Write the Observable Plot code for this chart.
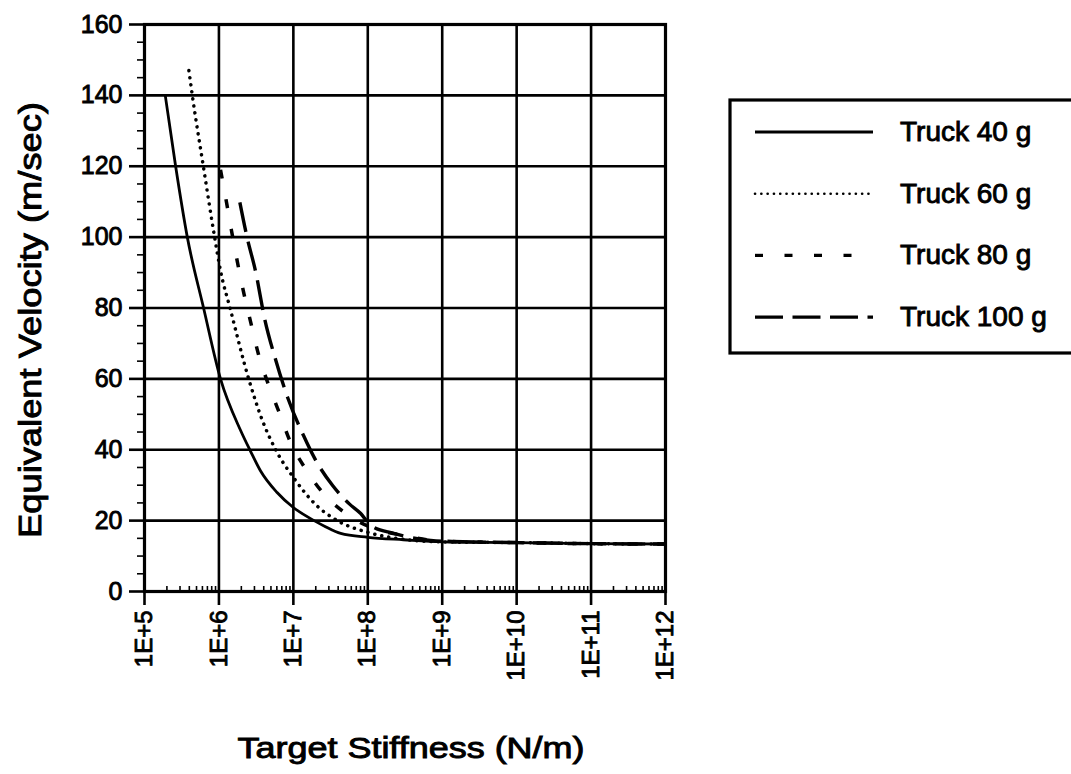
<!DOCTYPE html>
<html><head><meta charset="utf-8">
<script src="https://cdn.jsdelivr.net/npm/d3@7"></script>
<script src="https://cdn.jsdelivr.net/npm/@observablehq/plot@0.6"></script>
<style>
html,body{margin:0;padding:0;background:#fff;}
#wrap{position:relative;width:1071px;height:774px;overflow:hidden;background:#fff;}
#wrap svg{position:absolute;left:0;top:0;font-family:"Liberation Sans",Arial,Helvetica,sans-serif;}
#wrap svg text{fill:#000;stroke:#000;stroke-width:0.9px;}
</style></head><body><div id="wrap"></div>
<script>
// ---- data ----
const seriesNames = ["Truck 40 g", "Truck 60 g", "Truck 80 g", "Truck 100 g"];
const stiff40 = [1.9e5, 2.62e5, 3.76e5, 6.22e5, 1.05e6, 1.95e6, 2.67e6, 3.63e6, 6e6, 1e7, 1.9e7, 2.7e7, 4.32e7, 1e8, 3e8, 1e9, 1e10, 1e11, 1e12];
const vel40   = [140, 120, 100, 80, 60, 45.5, 39.5, 34, 28, 23.7, 20, 18.3, 16.4, 15.3, 14.6, 14.0, 13.8, 13.5, 13.4];
const stiff60 = [3.95e5, 4.39e5, 6.17e5, 8.75e5, 1.05e6, 1.41e6, 2.51e6, 3.8e6, 5.78e6, 1e7, 2e7, 3.9e7, 1e8, 2.25e8, 1e9, 1e10, 1e11, 1e12];
const vel60   = [147, 140, 120, 100, 90.5, 80, 60, 48.5, 40, 32.2, 24.5, 20, 16.7, 15.1, 14.0, 13.8, 13.5, 13.4];
const stiff80 = [1.05e6, 1.26e6, 1.47e6, 1.77e6, 2.17e6, 2.67e6, 3.39e6, 4.7e6, 6.6e6, 9.2e6, 1.46e7, 2.57e7, 4.78e7, 1.1e8, 3.07e8, 1e9, 1e10, 1e11, 1e12];
const vel80   = [119, 110, 102, 93, 84, 76, 67, 58, 50, 42, 34.6, 27.5, 22.4, 18.1, 15.8, 14.2, 13.8, 13.5, 13.4];
const stiff100 = [1.91e6, 2.39e6, 3.11e6, 4.11e6, 5.78e6, 8.5e6, 1.37e7, 2e7, 3.37e7, 5.6e7, 8.04e7, 1.1e8, 2.23e8, 7e8, 1e9, 1e10, 1e11, 1e12];
const vel100   = [109.8, 99.9, 90.3, 77, 65.4, 54.4, 44, 37, 29.9, 24.8, 22, 18.6, 16.4, 14.4, 14.2, 13.8, 13.5, 13.4];
const xTickValues = [1e5, 1e6, 1e7, 1e8, 1e9, 1e10, 1e11, 1e12];
const xTickLabels = ["1E+5", "1E+6", "1E+7", "1E+8", "1E+9", "1E+10", "1E+11", "1E+12"];
const yTickValues = [0, 20, 40, 60, 80, 100, 120, 140, 160];
const xTitle = "Target Stiffness (N/m)";
const yTitle = "Equivalent Velocity (m/sec)";

// ---- build ----
const stiffs = [stiff40, stiff60, stiff80, stiff100];
const vels = [vel40, vel60, vel80, vel100];
const rows = seriesNames.flatMap((name, i) => stiffs[i].map((k, j) => ({series: name, k, v: vels[i][j]})));
const lineStyle = [
  {dash: null, width: 2.8, cap: "butt"},
  {dash: "0.1,7", width: 3.5, cap: "round"},
  {dash: "9,21", width: 3.5, cap: "butt"},
  {dash: "30,10", width: 3.4, cap: "butt"}
];
const xMinor = [];
for (let e = 5; e < 12; e++) for (let m = 2; m <= 9; m++) xMinor.push(m * Math.pow(10, e));
const yMinor = d3.range(0, 161, 5).filter(v => v % 20 !== 0);
const labelOf = new Map(xTickValues.map((v, i) => [v, xTickLabels[i]]));

const lines = seriesNames.map((name, i) => Plot.line(rows.filter(r => r.series === name), {
  x: "k", y: "v", curve: "monotone-x", stroke: "black",
  strokeWidth: lineStyle[i].width,
  strokeDasharray: lineStyle[i].dash || undefined,
  strokeLinecap: lineStyle[i].cap
}));

const chart = Plot.plot({
  width: 1071, height: 774,
  marginTop: 24, marginLeft: 144, marginRight: 406, marginBottom: 183,
  style: {background: "transparent", color: "black", fontSize: "24px", overflow: "visible"},
  x: {type: "log", domain: [1e5, 1e12]},
  y: {domain: [0, 160]},
  marks: [
    Plot.gridX(xTickValues, {stroke: "black", strokeOpacity: 1, strokeWidth: 2.6}),
    Plot.gridY(yTickValues, {stroke: "black", strokeOpacity: 1, strokeWidth: 2.6}),
    Plot.axisX(xMinor, {tickSize: -5, tickFormat: () => "", label: null, strokeWidth: 1.6}),
    Plot.axisX(xTickValues, {tickSize: 14, tickPadding: 5, tickRotate: -90, tickFormat: d => labelOf.get(d), label: null, strokeWidth: 2.6, fontSize: 24}),
    Plot.axisY(yMinor, {tickSize: 7, tickFormat: () => "", label: null, strokeWidth: 1.6}),
    Plot.axisY(yTickValues, {tickSize: 15, tickPadding: 7, label: null, strokeWidth: 2.6, fontSize: 25}),
    ...lines,
    Plot.frame({stroke: "black", strokeWidth: 3.2}),
    Plot.text([xTitle], {frameAnchor: "bottom", dy: 166, dx: 6, lineAnchor: "bottom", textAnchor: "middle", fontSize: 29}),
    Plot.text([yTitle], {frameAnchor: "left", dx: -104, dy: 12, rotate: -90, lineAnchor: "bottom", textAnchor: "middle", fontSize: 32})
  ]
});
const wrap = document.getElementById("wrap");
wrap.appendChild(chart);

// stretch axis titles to the reference widths
d3.select(chart).selectAll("text").each(function() {
  const t = this.textContent;
  if (t === xTitle) d3.select(this).attr("textLength", 347).attr("lengthAdjust", "spacingAndGlyphs");
  if (t === yTitle) d3.select(this).attr("textLength", 436).attr("lengthAdjust", "spacingAndGlyphs");
});

// ---- legend ----
const leg = d3.select(wrap).append("svg").attr("width", 1071).attr("height", 774);
leg.append("rect").attr("x", 730).attr("y", 100).attr("width", 360).attr("height", 253)
  .attr("fill", "white").attr("stroke", "black").attr("stroke-width", 3.2);
const legDash = [null, "0.1,6.2", "8,21.5", "28,9.5"];
seriesNames.forEach((name, i) => {
  const base = 141 + i * 61.7;
  leg.append("line").attr("x1", 755).attr("x2", 873).attr("y1", base - 9).attr("y2", base - 9)
    .attr("stroke", "black").attr("stroke-width", i === 1 ? 2.6 : 3.2)
    .attr("stroke-linecap", i === 1 ? "round" : "butt")
    .attr("stroke-dasharray", legDash[i]);
  leg.append("text").attr("x", 900).attr("y", base).attr("font-size", 28).text(name);
});
</script></body></html>
